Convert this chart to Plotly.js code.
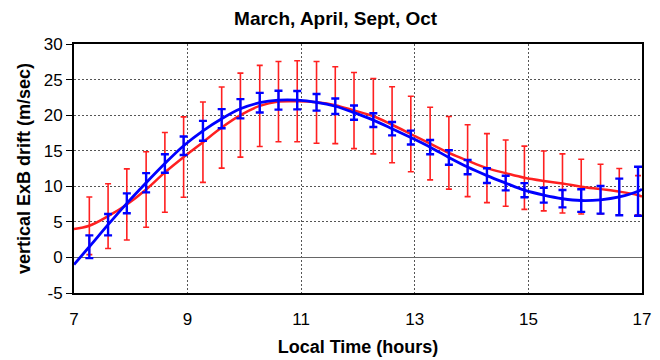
<!DOCTYPE html>
<html>
<head>
<meta charset="utf-8">
<script src="https://cdn.plot.ly/plotly-3.0.1.min.js"></script>
<style>html,body{margin:0;padding:0;background:#fff;}#chart{width:660px;height:360px;}</style>
</head>
<body>
<div id="chart"></div>
<script>
// Local time (hours) of the binned points
const hours = [7.27, 7.6, 7.93, 8.27, 8.6, 8.93, 9.27, 9.6, 9.93, 10.27,
               10.6, 10.93, 11.27, 11.6, 11.93, 12.27, 12.6, 12.93, 13.27, 13.6,
               13.93, 14.27, 14.6, 14.93, 15.27, 15.6, 15.93, 16.27, 16.6, 16.93];
// Red series: mean drift and error
const redMean = [4.45, 5.8, 7.45, 9.55, 11.95, 14.1, 16.2, 18.25, 20.0, 21.3,
                 21.9, 21.95, 21.8, 21.4, 20.65, 19.85, 18.65, 17.35, 16.0, 14.7,
                 13.6, 12.55, 11.85, 11.2, 10.75, 10.4, 9.95, 9.6, 9.25, 8.75];
const redErr  = [4.05, 4.55, 5.0, 5.3, 5.6, 5.65, 5.65, 5.7, 5.9, 5.7,
                 5.65, 5.7, 5.75, 5.4, 5.35, 5.3, 5.35, 5.3, 5.1, 5.1,
                 5.05, 4.85, 4.65, 4.45, 4.2, 4.15, 3.85, 3.5, 3.25, 2.75];
// Blue series: mean drift and error
const blueMean = [1.5, 4.6, 7.6, 10.5, 13.2, 15.7, 17.8, 19.5, 20.9, 21.75,
                  22.1, 22.1, 21.8, 21.25, 20.35, 19.3, 18.1, 16.85, 15.5, 14.05,
                  12.7, 11.5, 10.45, 9.45, 8.75, 8.25, 8.0, 8.1, 8.5, 9.3];
const blueErr  = [1.6, 1.5, 1.4, 1.35, 1.3, 1.3, 1.4, 1.35, 1.35, 1.38,
                  1.33, 1.29, 1.17, 1.08, 1.0, 0.96, 0.94, 0.98, 1.0, 1.02,
                  1.0, 1.03, 1.03, 1.0, 1.05, 1.22, 1.59, 1.94, 2.57, 3.44];
// Fitted curve end values at 7 h and 17 h
const curveEndsX = [7, 17];
const redEnds  = [4.0, 8.55];
const blueEnds = [-1.0, 9.6];
// Axis ticks
const xTicks = [7, 9, 11, 13, 15, 17];
const yTicks = [-5, 0, 5, 10, 15, 20, 25, 30];
const yTickText = ['-5', '0', '5', '10', '15', '20', '25', '30'];

const RED = '#ff2020', BLUE = '#0000ff';
const FONT = '"Liberation Sans", Arial, sans-serif';

const lineX = [curveEndsX[0], ...hours, curveEndsX[1]];
const redLineY = [redEnds[0], ...redMean, redEnds[1]];
const blueLineY = [blueEnds[0], ...blueMean, blueEnds[1]];

const traces = [
  {x: lineX, y: redLineY, mode: 'lines', line: {color: RED, width: 2.5, shape: 'spline', smoothing: 1}, hoverinfo: 'skip'},
  {x: hours, y: redMean, mode: 'markers', marker: {size: 1, opacity: 0},
   error_y: {type: 'data', array: redErr, visible: true, color: RED, thickness: 1.6, width: 3}, hoverinfo: 'skip'},
  {x: lineX, y: blueLineY, mode: 'lines', line: {color: BLUE, width: 2.8, shape: 'spline', smoothing: 1}, hoverinfo: 'skip'},
  {x: hours, y: blueMean, mode: 'markers', marker: {size: 1, opacity: 0},
   error_y: {type: 'data', array: blueErr, visible: true, color: BLUE, thickness: 2.4, width: 4}, hoverinfo: 'skip'}
];

const layout = {
  width: 660, height: 360,
  margin: {l: 74, r: 18, t: 44, b: 67},
  paper_bgcolor: '#ffffff', plot_bgcolor: '#ffffff',
  showlegend: false,
  font: {family: FONT, size: 17, color: '#000'},
  title: {text: '<b>March, April, Sept, Oct</b>', font: {family: FONT, size: 19, color: '#000'},
          x: 0.5085, xanchor: 'center', yref: 'container', y: 0.95, yanchor: 'middle'},
  xaxis: {
    range: [7, 17], tickvals: xTicks, ticks: '', showline: true, mirror: true,
    linecolor: '#000', linewidth: 2, showgrid: true, gridcolor: '#555', griddash: '2px,2px', gridwidth: 1,
    zeroline: false, tickfont: {family: FONT, size: 17, color: '#000'}, ticklabelstandoff: 10,
    title: {text: '<b>Local Time (hours)</b>', font: {family: FONT, size: 18, color: '#000'}, standoff: 12}
  },
  yaxis: {
    range: [-5, 30], tickvals: yTicks, ticktext: yTickText, ticks: 'outside', ticklen: 6, tickcolor: '#000', tickwidth: 1,
    showline: true, mirror: true, linecolor: '#000', linewidth: 2,
    showgrid: true, gridcolor: '#555', griddash: '2px,2px', gridwidth: 1,
    zeroline: true, zerolinecolor: '#666', zerolinewidth: 1,
    tickfont: {family: FONT, size: 17, color: '#000'},
    title: {text: '<b>vertical ExB drift (m/sec)</b>', font: {family: FONT, size: 18, color: '#000'}, standoff: 8}
  }
};

Plotly.newPlot('chart', traces, layout, {staticPlot: true, displayModeBar: false});
</script>
</body>
</html>
